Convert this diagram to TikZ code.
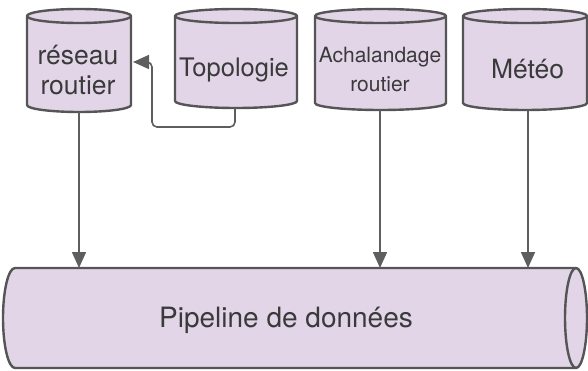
\documentclass[tikz,border=0pt]{standalone}
\usepackage{fontspec}
\setmainfont{TeX Gyre Heros}
\usetikzlibrary{arrows.meta}
\definecolor{cfill}{HTML}{E1D5E7}
\definecolor{cline}{HTML}{555555}
\definecolor{aline}{HTML}{5E5E5E}
\definecolor{ctext}{HTML}{3A3A3A}
\tikzset{
  shapeline/.style={fill=cfill, draw=cline, line width=2.4pt},
  hull/.style={inner sep=0pt, outer sep=0pt},
  lbl/.style={inner sep=0pt, text=ctext, align=center},
  arr/.style={draw=aline, line width=1.6pt, -{Triangle[length=16pt,width=14pt]}},
}
% vertical cylinder: name, xl, xr, ytop, ybot (image coordinates, y downwards)
\newcommand\vcyl[5]{%
  \pgfmathsetmacro\cxa{(#2+#3)/2}%
  \pgfmathsetmacro\rxa{(#3-#2)/2}%
  \pgfmathsetmacro\cya{-(#4+#5)/2}%
  \pgfmathsetmacro\wa{#3-#2}%
  \pgfmathsetmacro\ha{#5-#4}%
  \filldraw[shapeline] (#2,-#4-7) -- (#2,-#5+7)
     arc[start angle=180,end angle=360,x radius=\rxa,y radius=7]
     -- (#3,-#4-7)
     arc[start angle=0,end angle=180,x radius=\rxa,y radius=7] -- cycle;
  \draw[shapeline,fill=none] (#2,-#4-7) arc[start angle=180,end angle=360,x radius=\rxa,y radius=7];
  \node[hull,minimum width=\wa pt,minimum height=\ha pt] (#1) at (\cxa,\cya) {};
}
\begin{document}
\begin{tikzpicture}[x=1pt,y=1pt]
\useasboundingbox (0,0) rectangle (588,-371);

% top cylinders
\vcyl{reseau}{27}{131}{9}{112}
\vcyl{topo}{175}{297}{9}{108}
\vcyl{achal}{315}{446}{9}{110}
\vcyl{meteo}{463}{587}{9}{110}

% pipeline (horizontal cylinder)
\filldraw[shapeline] (15,-268) -- (576,-268)
   arc[start angle=90,end angle=-90,x radius=11,y radius=50]
   -- (15,-368)
   arc[start angle=270,end angle=90,x radius=12,y radius=50] -- cycle;
\draw[shapeline,fill=none] (576,-268) arc[start angle=90,end angle=270,x radius=11,y radius=50];
\node[hull,minimum width=585pt,minimum height=100pt] (pipe) at (294.5,-318) {};

% labels
\node[lbl,font=\fontsize{26.5}{30}\selectfont] (reseauT) at (78,-70) {réseau\\routier};
\node[lbl,font=\fontsize{25.5}{29}\selectfont] (topoT) at (234,-69.5) {Topologie};
\node[lbl,font=\fontsize{21}{29.5}\selectfont] (achalT) at (380,-69.5) {Achalandage\\routier};
\node[lbl,font=\fontsize{26.5}{30}\selectfont] (meteoT) at (527.5,-69) {Météo};
\node[lbl,font=\fontsize{28}{32}\selectfont] (pipeT) at (286,-320) {Pipeline de données};

% connectors
\draw[arr] (reseau.south) -- (reseau.south |- pipe.north);
\draw[arr] (achal.south -| 380,0) -- (380,-268);
\draw[arr] (meteo.south -| 528,0) -- (528,-268);
\coordinate (tA) at (235,-110);
\coordinate (tB) at (152,-127);
\draw[arr,rounded corners=5pt] (topo.south -| tA) -- (tA |- tB) -- (tB) -- (152,-62) -- ([xshift=2pt]reseau.east |- 0,-62);
\end{tikzpicture}
\end{document}
